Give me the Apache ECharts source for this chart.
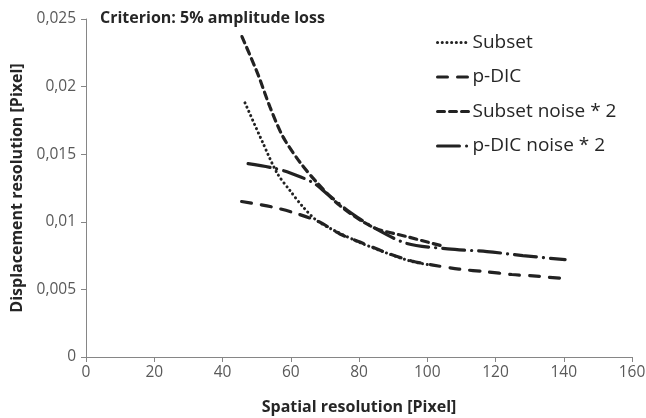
<!DOCTYPE html>
<html>
<head>
<meta charset="utf-8">
<script src="https://cdn.jsdelivr.net/npm/echarts@6/dist/echarts.min.js"></script>
<style>
html,body{margin:0;padding:0;background:#fff;}
#chart{width:646px;height:418px;}
</style>
</head>
<body>
<div id="chart"></div>
<script>
const seriesNames = ['Subset', 'p-DIC', 'Subset noise * 2', 'p-DIC noise * 2'];

const subsetX = [46.6, 51.9, 56, 59.8, 63.6, 67.6, 72.4, 80, 88, 95, 101];
const subsetY = [0.0188, 0.0158, 0.0136, 0.0123, 0.0111, 0.0101, 0.0094, 0.0085, 0.0077, 0.0071, 0.0068];

const pdicX = [45.6, 54.5, 61.2, 68.3, 74.4, 80.3, 88.2, 95.5, 101.7, 109.3, 117.5, 124.8, 131, 140];
const pdicY = [0.0115, 0.0111, 0.01065, 0.0100, 0.0091, 0.0085, 0.0077, 0.0071, 0.0068, 0.0065, 0.0063, 0.0061, 0.0060, 0.0058];

const subsetNoiseX = [45.7, 50.4, 53.9, 57.7, 62.7, 67.7, 74.4, 84.1, 94.1, 104.6];
const subsetNoiseY = [0.0237, 0.0209, 0.0185, 0.0163, 0.0144, 0.0129, 0.0112, 0.0096, 0.0089, 0.0082];

const pdicNoiseX = [47.5, 54.5, 58.9, 66.5, 70.5, 74.4, 77.4, 84.1, 94, 106, 117.5, 128, 140.4];
const pdicNoiseY = [0.0143, 0.0140, 0.0137, 0.0129, 0.0121, 0.0113, 0.0107, 0.0096, 0.0084, 0.0080, 0.0078, 0.0075, 0.0072];

const xTicks = [0, 20, 40, 60, 80, 100, 120, 140, 160];
const yTicks = [0, 0.005, 0.01, 0.015, 0.02, 0.025];

function pairs(xs, ys) { return xs.map((x, i) => [x, ys[i]]); }

const lineColor = '#222222';
const font = '"Open Sans", "Noto Sans", sans-serif';

const chart = echarts.init(document.getElementById('chart'), null, {renderer: 'canvas'});

function mkSeries(name, data, dash, cap, width) {
  return {
    name: name,
    type: 'line',
    data: data,
    smooth: 0.3,
    showSymbol: false,
    symbol: 'none',
    lineStyle: {color: lineColor, width: width, type: dash, cap: cap},
    itemStyle: {color: lineColor},
    emphasis: {disabled: true},
    animation: false
  };
}

const option = {
  animation: false,
  title: {
    text: 'Criterion: 5% amplitude loss',
    left: 95, top: 5,
    textStyle: {fontFamily: font, fontWeight: 'bold', fontSize: 16, color: '#262626'}
  },
  legend: {
    orient: 'vertical',
    left: 431, top: 28,
    itemWidth: 32, itemHeight: 12,
    itemGap: 15.5,
    textStyle: {fontFamily: font, fontSize: 19, color: '#262626', padding: [0, 0, 0, -2]},
    lineStyle: {width: 3},
    itemStyle: {opacity: 0, borderWidth: 0},
    data: seriesNames
  },
  grid: {left: 86, right: 14, top: 19, bottom: 61, containLabel: false, outerBoundsMode: 'none'},
  xAxis: {
    type: 'value', min: xTicks[0], max: xTicks[xTicks.length - 1], interval: 20,
    name: 'Spatial resolution [Pixel]', nameLocation: 'middle', nameGap: 42,
    nameTextStyle: {fontFamily: font, fontWeight: 'bold', fontSize: 16, color: '#262626'},
    axisLine: {show: true, lineStyle: {color: '#868686', width: 1}},
    axisTick: {show: true, length: 5, lineStyle: {color: '#868686'}},
    axisLabel: {fontFamily: font, fontSize: 15.5, color: '#595959', margin: 8},
    splitLine: {show: false}
  },
  yAxis: {
    type: 'value', min: yTicks[0], max: yTicks[yTicks.length - 1], interval: 0.005,
    name: 'Displacement resolution [Pixel]', nameLocation: 'middle', nameGap: 60, nameRotate: 90,
    nameTextStyle: {fontFamily: font, fontWeight: 'bold', fontSize: 16, color: '#262626'},
    axisLine: {show: true, lineStyle: {color: '#868686', width: 1}},
    axisTick: {show: true, length: 5, lineStyle: {color: '#868686'}},
    axisLabel: {fontFamily: font, fontSize: 15.5, color: '#595959', margin: 10,
      formatter: v => String(+v.toFixed(3)).replace('.', ',')},
    splitLine: {show: false}
  },
  series: [
    mkSeries(seriesNames[0], pairs(subsetX, subsetY), [0.1, 4.6], 'round', 3),
    mkSeries(seriesNames[1], pairs(pdicX, pdicY), [10, 10], 'round', 3.2),
    mkSeries(seriesNames[2], pairs(subsetNoiseX, subsetNoiseY), [7, 5], 'round', 3.2),
    mkSeries(seriesNames[3], pairs(pdicNoiseX, pdicNoiseY), [22, 7, 0.1, 7], 'round', 3.2)
  ]
};
chart.setOption(option);
</script>
</body>
</html>
